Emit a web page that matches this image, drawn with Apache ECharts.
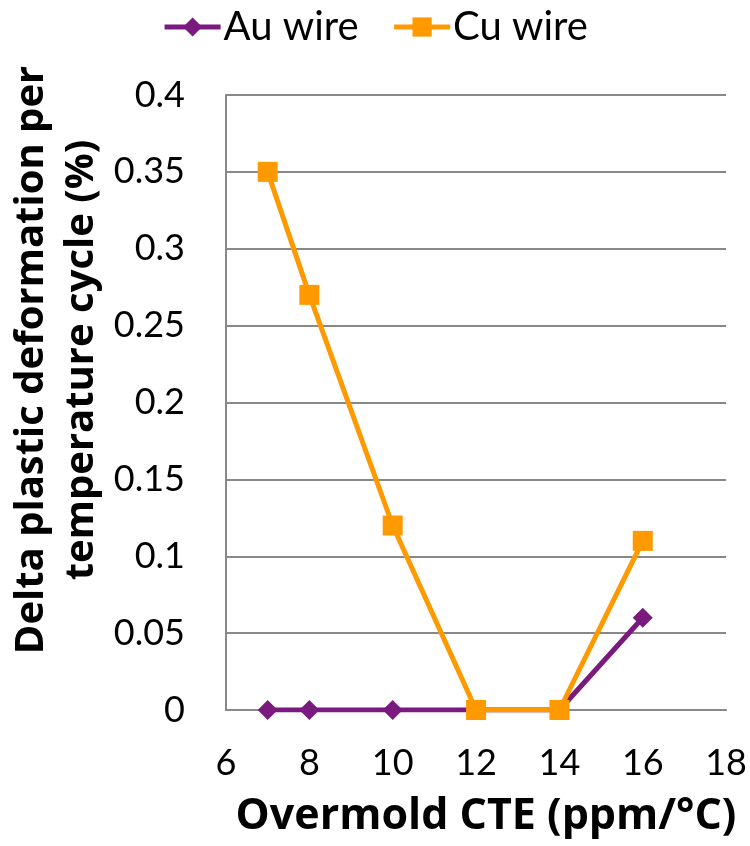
<!DOCTYPE html>
<html>
<head>
<meta charset="utf-8">
<script src="https://cdn.jsdelivr.net/npm/echarts@6/dist/echarts.min.js"></script>
<style>
  html, body { margin: 0; padding: 0; background: #fff; }
  #chart { width: 750px; height: 846px; }
</style>
</head>
<body>
<div id="chart"></div>
<script>
// Overmold CTE (ppm/°C) values
const cteValues = [7, 8, 10, 12, 14, 16];
// Delta plastic deformation per temperature cycle (%)
const auWire = [0, 0, 0, 0, 0, 0.06];
const cuWire = [0.35, 0.27, 0.12, 0, 0, 0.11];
const seriesNames = ['Au wire', 'Cu wire'];

const FONT = 'Lato';
const TITLE_FONT = '"Open Sans"';
const pairs = (xs, ys) => xs.map((x, i) => [x, ys[i]]);

const chart = echarts.init(document.getElementById('chart'));
chart.setOption({
  animation: false,
  textStyle: { fontFamily: FONT },
  legend: {
    top: 2,
    left: 'center',
    itemWidth: 56,
    itemHeight: 24,
    itemGap: 33,
    lineStyle: { width: 5 },
    textStyle: { fontSize: 40, color: '#000', fontFamily: FONT, padding: [0, 0, 0, -2] },
    data: seriesNames
  },
  grid: { left: 226, right: 23, top: 95, bottom: 136 },
  xAxis: {
    type: 'value',
    min: 6, max: 18, interval: 2,
    axisLine: { show: true, lineStyle: { color: '#888', width: 2 } },
    axisTick: { show: false },
    splitLine: { show: false },
    axisLabel: { fontSize: 36, color: '#000', margin: 35 }
  },
  yAxis: {
    type: 'value',
    min: 0, max: 0.4, interval: 0.05,
    axisLine: { show: true, lineStyle: { color: '#888', width: 2 } },
    axisTick: { show: false },
    splitLine: { show: true, lineStyle: { color: '#888', width: 2 } },
    axisLabel: { fontSize: 36, color: '#000', margin: 41 }
  },
  graphic: [
    {
      type: 'text',
      x: 57, y: 360,
      rotation: Math.PI / 2,
      style: {
        text: 'Delta plastic deformation per\ntemperature cycle (%)',
        font: 'bold 40px ' + TITLE_FONT,
        fill: '#000',
        align: 'center',
        verticalAlign: 'middle',
        lineHeight: 50
      }
    },
    {
      type: 'text',
      x: 486, y: 817,
      style: {
        text: 'Overmold CTE (ppm/°C)',
        font: 'bold 43px ' + TITLE_FONT,
        fill: '#000',
        align: 'center',
        verticalAlign: 'middle'
      }
    }
  ],
  series: [
    {
      name: seriesNames[0],
      type: 'line',
      data: pairs(cteValues, auWire),
      symbol: 'diamond',
      symbolSize: 20,
      lineStyle: { color: '#7B1A7E', width: 5 },
      itemStyle: { color: '#7B1A7E' }
    },
    {
      name: seriesNames[1],
      type: 'line',
      data: pairs(cteValues, cuWire),
      symbol: 'rect',
      symbolSize: 20,
      lineStyle: { color: '#FF9900', width: 5 },
      itemStyle: { color: '#FF9900' }
    }
  ]
});
</script>
</body>
</html>
